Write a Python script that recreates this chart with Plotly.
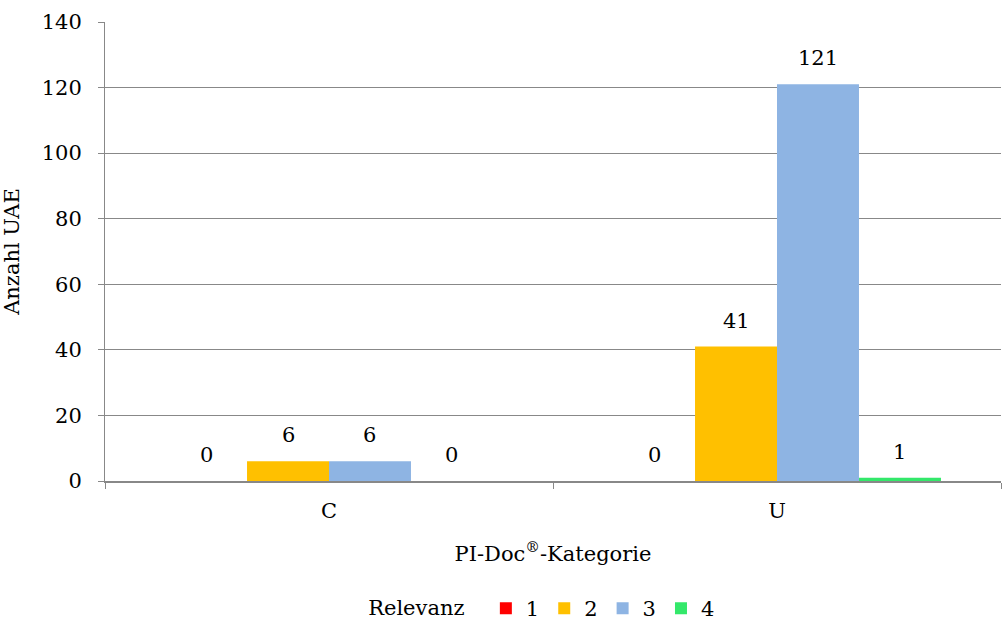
import plotly.graph_objects as go

# Anzahl UAE je PI-Doc-Kategorie und Relevanzstufe
categories = ["C", "U"]
relevanz = ["1", "2", "3", "4"]
values = {
    "1": [0, 0],
    "2": [6, 41],
    "3": [6, 121],
    "4": [0, 1],
}
colors = {"1": "#FF0000", "2": "#FFC000", "3": "#8EB4E3", "4": "#33E86A"}

FONT = "DejaVu Serif"
FS = 21
BARGAP = 0.268

fig = go.Figure()
for r in relevanz:
    fig.add_trace(go.Bar(
        x=categories,
        y=values[r],
        name=r,
        marker=dict(color=colors[r], line=dict(width=0)),
    ))

# Wertebeschriftungen über den Balken (Balkenmitte im Gruppenraster)
slot = (1 - BARGAP) / len(relevanz)
for j, r in enumerate(relevanz):
    for i, v in enumerate(values[r]):
        fig.add_annotation(
            x=i + (j - (len(relevanz) - 1) / 2) * slot,
            y=v,
            xref="x", yref="y",
            text=str(v),
            showarrow=False,
            yanchor="middle",
            yshift=26,
            font=dict(family=FONT, size=FS, color="#000000"),
        )

fig.update_layout(
    barmode="group",
    bargap=BARGAP,
    bargroupgap=0,
    width=1003,
    height=629,
    margin=dict(l=105, r=2, t=22, b=148),
    paper_bgcolor="white",
    plot_bgcolor="white",
    font=dict(family=FONT, size=FS, color="#000000"),
    showlegend=True,
    legend=dict(
        orientation="h",
        x=0.489, xanchor="center",
        yref="container", y=0.0, yanchor="bottom",
        title=dict(text="Relevanz  ", font=dict(family=FONT, size=FS)),
        font=dict(family=FONT, size=FS),
        itemwidth=30,
        tracegroupgap=0,
    ),
    xaxis=dict(
        title=dict(text="PI-Doc<sup>®</sup>-Kategorie", font=dict(family=FONT, size=FS), standoff=24),
        showline=True, linecolor="#888888", linewidth=2,
        ticks="outside", tickson="boundaries", ticklen=6, tickcolor="#888888",
        tickfont=dict(family=FONT, size=FS),
        ticklabelstandoff=10,
        showgrid=False,
    ),
    yaxis=dict(
        title=dict(text="Anzahl UAE", font=dict(family=FONT, size=FS), standoff=22),
        range=[0, 140], dtick=20,
        showline=True, linecolor="#888888", linewidth=1,
        ticks="outside", ticklen=6, tickcolor="#888888",
        tickfont=dict(family=FONT, size=FS),
        ticklabelstandoff=12,
        showgrid=True, gridcolor="#888888", gridwidth=1,
        zeroline=False,
    ),
)

fig.write_html("out.html")
